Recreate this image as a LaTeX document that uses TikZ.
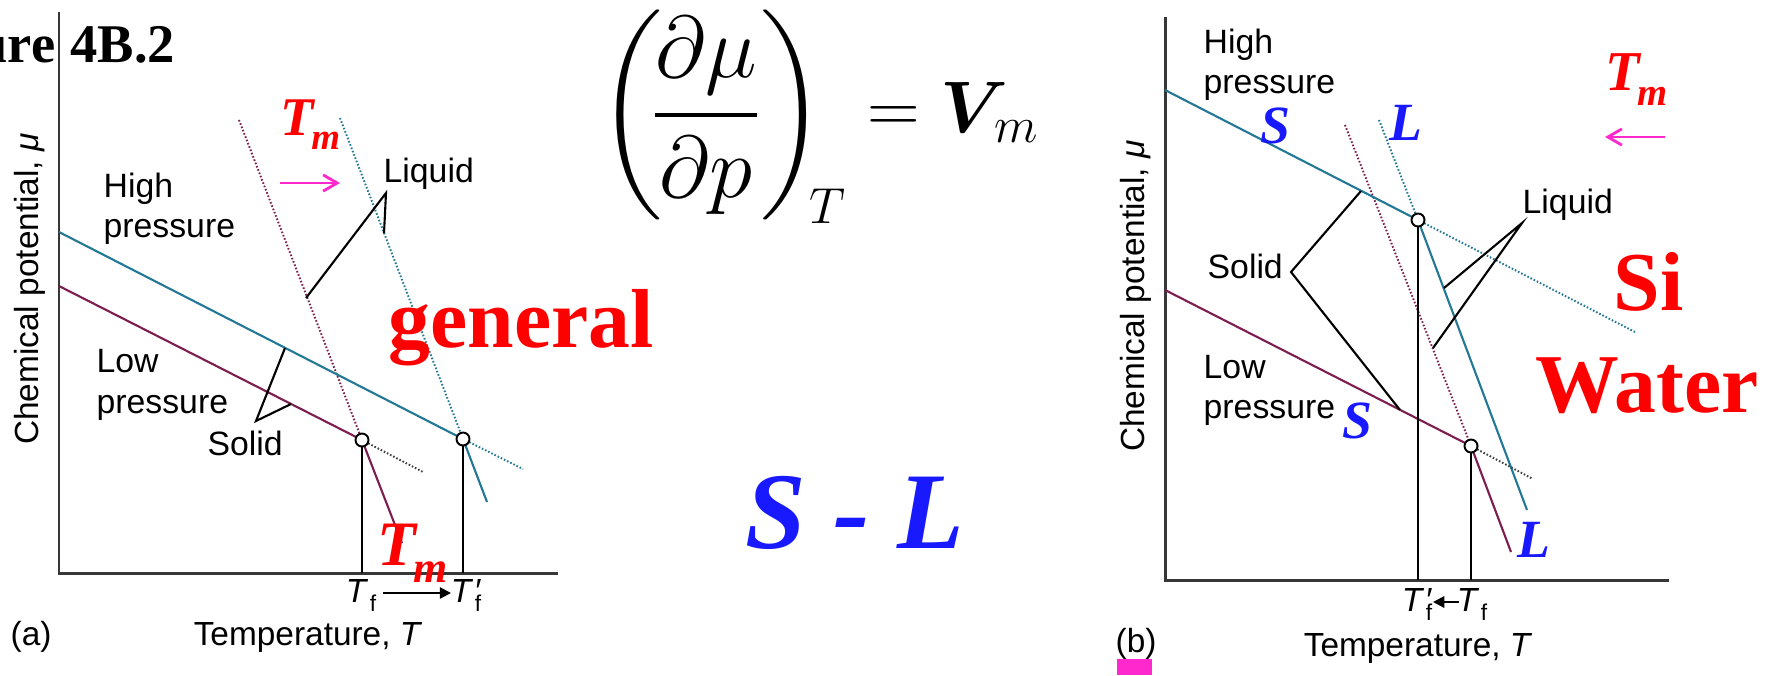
\documentclass[tikz,border=0pt]{standalone}
\usepackage{amsmath}
\usepackage{fontspec}
\setmainfont{Liberation Serif}
\newfontfamily\labsf{Liberation Sans}
\usetikzlibrary{arrows.meta}
\definecolor{tealA}{RGB}{35,120,150}
\definecolor{maroonA}{RGB}{125,30,80}
\definecolor{redA}{RGB}{255,0,0}
\definecolor{blueA}{RGB}{25,25,255}
\definecolor{magA}{RGB}{255,40,205}
\definecolor{axisgray}{RGB}{55,55,55}
\newcommand{\TmLab}[2]{\textbf{\textit{\fontsize{#1}{#1}\selectfont T\kern-0.05em\raisebox{-0.27em}{\fontsize{#2}{#2}\selectfont m}}}}
\newcommand{\TfLab}{\textit{T}\kern0.05em\raisebox{-2.8pt}{\fontsize{6.5}{7}\selectfont f}}
\newcommand{\TfpLab}{\textit{T}\makebox[0pt][l]{\kern0.02em\textit{\char"2032}}\kern0.05em\raisebox{-2.8pt}{\fontsize{6.5}{7}\selectfont f}}
\begin{document}
\begin{tikzpicture}[x=0.01cm,y=-0.01cm,
  axisln/.style={draw=axisgray,line width=0.85pt},
  hiS/.style={draw=tealA,line width=0.6pt},
  loS/.style={draw=maroonA,line width=0.6pt},
  hiD/.style={draw=tealA,line width=0.55pt,dash pattern=on 0.45pt off 0.55pt},
  loD/.style={draw=maroonA,line width=0.55pt,dash pattern=on 0.45pt off 0.55pt},
  bkD/.style={draw=black!75,line width=0.55pt,dash pattern=on 0.45pt off 0.55pt},
  vln/.style={draw=black,line width=0.6pt},
  ptr/.style={draw=black,line width=0.6pt},
  pt/.style={circle,draw=black,fill=white,line width=0.55pt,minimum size=0.13cm,inner sep=0},
  lab/.style={font=\labsf\fontsize{9.6}{11}\selectfont,inner sep=0,anchor=base west},
  axlab/.style={font=\labsf\fontsize{9.5}{11}\selectfont,inner sep=0},
  bigred/.style={font=\bfseries\fontsize{23.8}{26}\selectfont,text=redA,inner sep=0,anchor=base west},
  blueit/.style={font=\bfseries\itshape\fontsize{15.3}{17}\selectfont,text=blueA,inner sep=0,anchor=base west},
  redtm/.style={text=redA,inner sep=0,anchor=base west},
  magarrow/.style={draw=magA,line width=0.8pt},
  blkarrow/.style={draw=black,line width=0.6pt,-{Triangle[length=3.2pt,width=3.2pt]}}
]
\useasboundingbox (0,0) rectangle (1767,675);
\fill[white] (0,0) rectangle (1767,675);

%% ---------------- panel (a) ----------------
\coordinate (aT) at (59,12);
\coordinate (aO) at (59,573);
\coordinate (aE) at (558,573);
\coordinate (aH0) at (59,232);
\coordinate (aC2) at (463,439);
\coordinate (aH3) at (523,469);
\coordinate (aHt) at (340,118);
\coordinate (aHb) at (487,502);
\coordinate (aL0) at (59,286);
\coordinate (aC1) at (362,440);
\coordinate (aL3) at (423,472);
\coordinate (aLt) at (239,120);
\coordinate (aLb) at (402,543);

\draw[axisln] (aT) -- (aO) -- (aE);
\draw[hiD] (aHt) -- (aC2);
\draw[loD] (aLt) -- (aC1);
\draw[hiS] (aH0) -- (aC2);
\draw[hiD] (aC2) -- (aH3);
\draw[hiS] (aC2) -- (aHb);
\draw[loS] (aL0) -- (aC1);
\draw[bkD] (aC1) -- (aL3);
\draw[loS] (aC1) -- (aLb);
\draw[vln] (aC1) -- (aC1 |- aO);
\draw[vln] (aC2) -- (aC2 |- aO);
\node[pt] (aP1) at (aC1) {};
\node[pt] (aP2) at (aC2) {};

\coordinate (aLqP) at (386,193);
\coordinate (aLqA) at (306,298);
\coordinate (aLqB) at (384,233);
\draw[ptr] (aLqA) -- (aLqP) -- (aLqB);
\coordinate (aSdP) at (256,421);
\coordinate (aSdA) at (285,348);
\coordinate (aSdB) at (291,404);
\draw[ptr] (aSdA) -- (aSdP) -- (aSdB);

\node[font=\bfseries\fontsize{15.5}{18}\selectfont,inner sep=0,anchor=base east] (fig) at (56,62) {ure};
\node[font=\bfseries\fontsize{15.5}{18}\selectfont,inner sep=0,anchor=base west] (fignum) at (70,62) {4B.2};

\node[lab] (aHigh) at (103,197) {High};
\node[lab] (aHigh2) at (103,237) {pressure};
\node[lab] (aLow) at (96,372) {Low};
\node[lab] (aLow2) at (96,413) {pressure};
\node[lab] (aSolid) at (207,455) {Solid};
\node[lab] (aLiq) at (383,182) {Liquid};

\node[redtm] (aTm) at (280,135) {\TmLab{15.5}{10.5}};
\coordinate (aMa1) at (280,183);
\coordinate (aMa2) at (340,183);
\draw[magarrow,-{Straight Barb[length=4pt,width=7pt,angle'=60]}] (aMa1) -- (aMa2);

\node[axlab,anchor=base] (aTf) at (361,602) {\TfLab};
\node[axlab,anchor=base] (aTfp) at (466,602) {\TfpLab};
\coordinate (aAr1) at (383,593);
\coordinate (aAr2) at (451,593);
\draw[blkarrow] (aAr1) -- (aAr2);
\node[axlab,anchor=base] (aTemp) at (308,645) {Temperature, \textit{T}};
\node[axlab,anchor=base west] (aLbl) at (10,645) {(a)};
\node[axlab,anchor=base,rotate=90] (aChem) at (38,289) {Chemical potential, \textit{μ}};

\node[bigred] (gen) at (388,347) {general};
\node[redtm] (aTm2) at (377,565) {\TmLab{18}{12.5}};

%% ---------------- equation ----------------
\node[inner sep=0,anchor=base west] (eqL) at (598,137) {\fontsize{27.5}{30}\selectfont$\left(\mkern-2.5mu\dfrac{\partial\mu}{\partial p}\right)_{\kern-4.5pt\scriptscriptstyle T}$};
\node[inner sep=0,anchor=base west] (eqR) at (867,132) {\fontsize{20.5}{24}\selectfont$=\boldsymbol{V}_{\kern-4pt m}$};
\node[font=\bfseries\itshape\fontsize{31}{34}\selectfont,text=blueA,inner sep=0,anchor=base west] (SL) at (745,548) {S - L};

%% ---------------- panel (b) ----------------
\coordinate (bT) at (1165,17);
\coordinate (bO) at (1165,580);
\coordinate (bE) at (1669,580);
\coordinate (bH0) at (1165,90);
\coordinate (bC2) at (1418,220);
\coordinate (bH3) at (1635,332);
\coordinate (bHt) at (1379,120);
\coordinate (bHb) at (1527,510);
\coordinate (bL0) at (1165,290);
\coordinate (bC1) at (1471,446);
\coordinate (bL3) at (1533,479);
\coordinate (bLt) at (1345,125);
\coordinate (bLb) at (1511,552);

\draw[axisln] (bT) -- (bO) -- (bE);
\draw[hiD] (bHt) -- (bC2);
\draw[loD] (bLt) -- (bC1);
\draw[hiS] (bH0) -- (bC2);
\draw[hiD] (bC2) -- (bH3);
\draw[hiS] (bC2) -- (bHb);
\draw[loS] (bL0) -- (bC1);
\draw[bkD] (bC1) -- (bL3);
\draw[loS] (bC1) -- (bLb);
\draw[vln] (bC1) -- (bC1 |- bO);
\draw[vln] (bC2) -- (bC2 |- bO);
\node[pt] (bP1) at (bC1) {};
\node[pt] (bP2) at (bC2) {};

\coordinate (bLqP) at (1522,223);
\coordinate (bLqA) at (1444,288);
\coordinate (bLqB) at (1433,348);
\draw[ptr] (bLqA) -- (bLqP) -- (bLqB);
\coordinate (bSdP) at (1291,272);
\coordinate (bSdA) at (1361,191);
\coordinate (bSdB) at (1400,410);
\draw[ptr] (bSdA) -- (bSdP) -- (bSdB);

\node[lab] (bHigh) at (1203,53) {High};
\node[lab] (bHigh2) at (1203,93) {pressure};
\node[lab] (bLow) at (1203,378) {Low};
\node[lab] (bLow2) at (1203,418) {pressure};
\node[lab] (bSolid) at (1207,278) {Solid};
\node[lab] (bLiq) at (1522,213) {Liquid};

\node[blueit] (bS1) at (1260,143) {S};
\node[blueit] (bL1) at (1389,140) {L};
\node[blueit] (bS2) at (1342,438) {S};
\node[blueit] (bL2) at (1517,557) {L};

\node[redtm] (bTm) at (1605,90) {\TmLab{16}{11}};
\coordinate (bMa1) at (1665,137);
\coordinate (bMa2) at (1605,137);
\draw[magarrow,-{Straight Barb[length=4pt,width=7pt,angle'=60]}] (bMa1) -- (bMa2);

\node[bigred] (bSi) at (1613,310) {Si};
\node[bigred] (bWater) at (1535,412) {Water};

\node[axlab,anchor=base] (bTfp) at (1417,611) {\TfpLab};
\node[axlab,anchor=base] (bTf) at (1472,611) {\TfLab};
\coordinate (bAr1) at (1459,602);
\coordinate (bAr2) at (1433,602);
\draw[blkarrow] (bAr1) -- (bAr2);
\node[axlab,anchor=base] (bTemp) at (1418,656) {Temperature, \textit{T}};
\node[axlab,anchor=base west] (bLbl) at (1115,652) {(b)};
\fill[magA] (1117,659) rectangle (1152,675);
\node[axlab,anchor=base,rotate=90] (bChem) at (1144,296) {Chemical potential, \textit{μ}};
\end{tikzpicture}
\end{document}
